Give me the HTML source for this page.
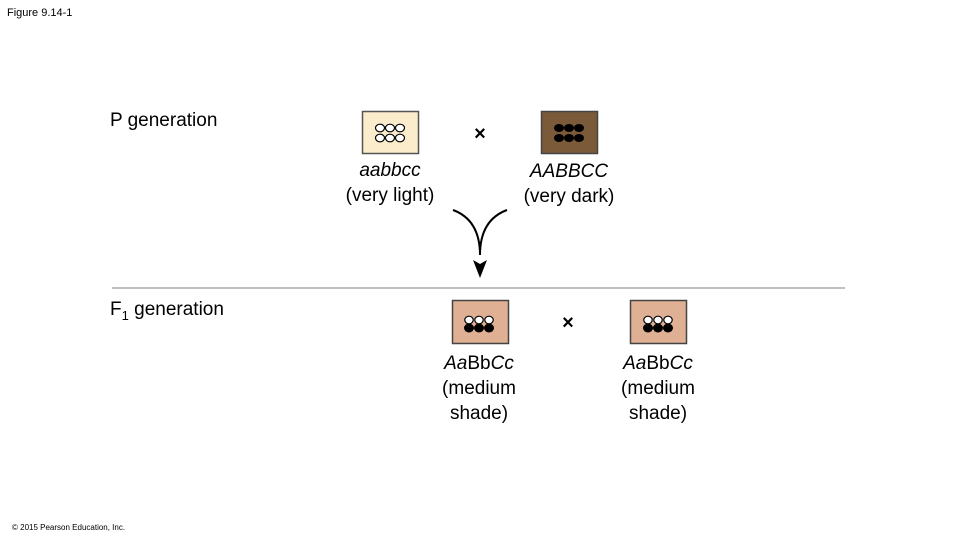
<!DOCTYPE html>
<html><head><style>
body{margin:0;width:958px;height:540px;background:#fff;overflow:hidden;font-family:"Liberation Sans",sans-serif;}
</style></head><body>
<svg width="958" height="540" xmlns="http://www.w3.org/2000/svg" font-family="Liberation Sans, sans-serif">
<text x="7" y="16" font-size="11" fill="#000">Figure 9.14-1</text>
<text x="110" y="126" font-size="19" fill="#000">P generation</text>
<text x="110" y="315" font-size="19" fill="#000">F<tspan font-size="13" dy="5">1</tspan><tspan dy="-5"> generation</tspan></text>
<line x1="112" y1="288" x2="845" y2="288" stroke="#aaa" stroke-width="1.5"/>
<!-- light box -->
<rect x="362.5" y="111.5" width="56" height="42" fill="#fbeccb" stroke="#555" stroke-width="1.5"/>
<g fill="#fff" stroke="#000" stroke-width="1.2">
<ellipse cx="380" cy="128" rx="4.5" ry="3.8"/><ellipse cx="390" cy="128" rx="4.5" ry="3.8"/><ellipse cx="400" cy="128" rx="4.5" ry="3.8"/>
<ellipse cx="380" cy="138" rx="4.5" ry="3.8"/><ellipse cx="390" cy="138" rx="4.5" ry="3.8"/><ellipse cx="400" cy="138" rx="4.5" ry="3.8"/>
</g>
<!-- dark box -->
<rect x="541.5" y="111.5" width="56" height="42" fill="#7b5a3a" stroke="#444" stroke-width="1.5"/>
<g fill="#000">
<ellipse cx="559" cy="128" rx="5" ry="4"/><ellipse cx="569" cy="128" rx="5" ry="4"/><ellipse cx="579" cy="128" rx="5" ry="4"/>
<ellipse cx="559" cy="138" rx="5" ry="4"/><ellipse cx="569" cy="138" rx="5" ry="4"/><ellipse cx="579" cy="138" rx="5" ry="4"/>
</g>
<text x="480" y="140" font-size="20" font-weight="bold" text-anchor="middle">×</text>
<text x="390" y="176" font-size="19" font-style="italic" text-anchor="middle">aabbcc</text>
<text x="390" y="201" font-size="19" text-anchor="middle">(very light)</text>
<text x="569" y="177" font-size="19" font-style="italic" text-anchor="middle">AABBCC</text>
<text x="569" y="202" font-size="19" text-anchor="middle">(very dark)</text>
<!-- arrow -->
<path d="M453 210 Q480 220 480 255" fill="none" stroke="#000" stroke-width="2"/>
<path d="M507 210 Q480 220 480 255" fill="none" stroke="#000" stroke-width="2"/>
<path d="M473 260 L480 278 L487 260 L480 264 Z" fill="#000"/>
<!-- F1 boxes -->
<g>
<rect x="452.5" y="300.5" width="56" height="43" fill="#e0b094" stroke="#444" stroke-width="1.5"/>
<g fill="#fff" stroke="#000" stroke-width="1.2"><ellipse cx="469" cy="320" rx="4.2" ry="3.8"/><ellipse cx="479" cy="320" rx="4.2" ry="3.8"/><ellipse cx="489" cy="320" rx="4.2" ry="3.8"/></g>
<g fill="#000"><ellipse cx="469" cy="328" rx="5" ry="4.5"/><ellipse cx="479" cy="328" rx="5" ry="4.5"/><ellipse cx="489" cy="328" rx="5" ry="4.5"/></g>
</g>
<g>
<rect x="630.5" y="300.5" width="56" height="43" fill="#e0b094" stroke="#444" stroke-width="1.5"/>
<g fill="#fff" stroke="#000" stroke-width="1.2"><ellipse cx="648" cy="320" rx="4.2" ry="3.8"/><ellipse cx="658" cy="320" rx="4.2" ry="3.8"/><ellipse cx="668" cy="320" rx="4.2" ry="3.8"/></g>
<g fill="#000"><ellipse cx="648" cy="328" rx="5" ry="4.5"/><ellipse cx="658" cy="328" rx="5" ry="4.5"/><ellipse cx="668" cy="328" rx="5" ry="4.5"/></g>
</g>
<text x="568" y="329" font-size="20" font-weight="bold" text-anchor="middle">×</text>
<text x="479" y="369" font-size="19" font-style="italic" text-anchor="middle">Aa<tspan font-style="normal">Bb</tspan>Cc</text>
<text x="479" y="394" font-size="19" text-anchor="middle">(medium</text>
<text x="479" y="419" font-size="19" text-anchor="middle">shade)</text>
<text x="658" y="369" font-size="19" font-style="italic" text-anchor="middle">Aa<tspan font-style="normal">Bb</tspan>Cc</text>
<text x="658" y="394" font-size="19" text-anchor="middle">(medium</text>
<text x="658" y="419" font-size="19" text-anchor="middle">shade)</text>
<text x="12" y="530" font-size="8">© 2015 Pearson Education, Inc.</text>
</svg>
</body></html>
